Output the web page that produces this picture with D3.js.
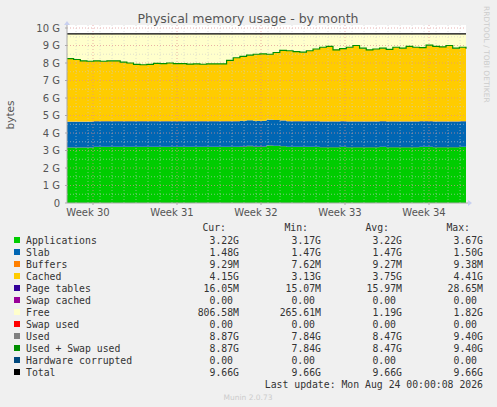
<!DOCTYPE html><html><head><meta charset="utf-8">
<script src="https://cdn.jsdelivr.net/npm/d3@7"></script>
<style>body{margin:0;background:#f0f0f0}svg{display:block}</style></head><body>
<script>
const used=[8.25,8.2,8.12,8.1,8.12,8.1,8.12,8.12,8.05,8.0,7.92,7.9,7.92,7.98,7.96,8.0,7.96,7.97,7.94,7.95,7.93,7.95,7.95,7.95,8.15,8.3,8.38,8.45,8.5,8.52,8.5,8.6,8.72,8.7,8.65,8.62,8.7,8.8,8.9,8.95,8.75,8.82,8.9,9.0,8.85,8.75,8.8,8.85,8.78,8.9,8.85,8.95,8.9,8.88,9.02,8.95,8.92,9.0,8.85,8.9,8.82];
const apps=[3.17,3.17,3.17,3.17,3.2,3.2,3.2,3.2,3.2,3.2,3.2,3.2,3.2,3.2,3.2,3.2,3.2,3.2,3.2,3.2,3.2,3.2,3.2,3.2,3.2,3.2,3.22,3.25,3.22,3.22,3.28,3.26,3.24,3.2,3.2,3.2,3.2,3.2,3.18,3.18,3.18,3.2,3.18,3.18,3.18,3.18,3.18,3.2,3.18,3.18,3.18,3.18,3.18,3.2,3.2,3.18,3.18,3.18,3.18,3.2,3.2];
const slab=1.46, buffers=0.009, pageTables=0.016, total=9.66;
const weekLabels=["Week 30","Week 31","Week 32","Week 33","Week 34"];
const yTicks=[0,1,2,3,4,5,6,7,8,9,10];
const legend=[
["Applications","#00CC00","3.22G","3.17G","3.22G","3.67G"],
["Slab","#0066B3","1.48G","1.47G","1.47G","1.50G"],
["Buffers","#FF8000","9.29M","7.62M","9.27M","9.38M"],
["Cached","#FFCC00","4.15G","3.13G","3.75G","4.41G"],
["Page tables","#330099","16.05M","15.07M","15.97M","28.65M"],
["Swap cached","#990099","0.00","0.00","0.00","0.00"],
["Free","#FFFFCC","806.58M","265.61M","1.19G","1.82G"],
["Swap used","#FF0000","0.00","0.00","0.00","0.00"],
["Used","#808080","8.87G","7.84G","8.47G","9.40G"],
["Used + Swap used","#008F00","8.87G","7.84G","8.47G","9.40G"],
["Hardware corrupted","#00487D","0.00","0.00","0.00","0.00"],
["Total","#000000","9.66G","9.66G","9.66G","9.66G"]];

const W=497,H=407,L=67,R=466,T=28,B=203;
const svg=d3.select("body").append("svg").attr("width",W).attr("height",H);
const n=used.length;
const x=d3.scaleLinear().domain([0,n-1]).range([L,R]);
const y=d3.scaleLinear().domain([0,10]).range([B,T]);
svg.append("rect").attr("x",L).attr("y",T-3).attr("width",R-L).attr("height",B-T+3).attr("fill","#fff");
// data rows
const rows=used.map((u,i)=>{const a=apps[i];const c=u-a-slab-buffers-pageTables;return{a,p:pageTables,s:slab,b:buffers,c,f:total-u};});
const keys=["a","p","s","b","c","f"],cols={a:"#00CC00",p:"#330099",s:"#0066B3",b:"#FF8000",c:"#FFCC00",f:"#FFFFCC"};
const st=d3.stack().keys(keys)(rows);
const area=d3.area().x((d,i)=>x(i)).y0(d=>y(d[0])).y1(d=>y(d[1])).curve(d3.curveStepAfter);
svg.selectAll(".ar").data(st).enter().append("path").attr("d",area).attr("fill",d=>cols[d.key]);
// grid
const g=svg.append("g");
for(let v=0.5;v<10;v+=1)g.append("line").attr("x1",L).attr("x2",R).attr("y1",y(v)).attr("y2",y(v)).attr("stroke","#ccc").attr("stroke-dasharray","1,2").attr("stroke-width",0.6);
const wk=[93,177,261,345,429].map(v=>x.invert(v));
const dayPx=12;
for(let px=L+9;px<R;px+=dayPx)g.append("line").attr("x1",px).attr("x2",px).attr("y1",T-3).attr("y2",B).attr("stroke","#ccc").attr("stroke-dasharray","1,2").attr("stroke-width",0.6);
yTicks.slice(1).forEach(v=>g.append("line").attr("x1",L).attr("x2",R).attr("y1",y(v)).attr("y2",y(v)).attr("stroke","#e09090").attr("stroke-dasharray","1,2").attr("stroke-width",0.7));
wk.forEach(v=>g.append("line").attr("x1",x(v)).attr("x2",x(v)).attr("y1",T-3).attr("y2",B).attr("stroke","#e09090").attr("stroke-dasharray","1,2").attr("stroke-width",0.7));
// lines
svg.append("path").datum(used).attr("d",d3.line().x((d,i)=>x(i)).y(d=>y(d)).curve(d3.curveStepAfter)).attr("fill","none").attr("stroke","#008F00").attr("stroke-width",1.2);
svg.append("line").attr("x1",L).attr("x2",R).attr("y1",y(total)).attr("y2",y(total)).attr("stroke","#000").attr("stroke-width",1.2);
// axes
svg.append("line").attr("x1",L).attr("x2",R+3).attr("y1",B).attr("y2",B).attr("stroke","#aaa");
svg.append("line").attr("x1",L).attr("x2",L).attr("y1",B).attr("y2",T-5).attr("stroke","#aaa");
svg.append("path").attr("d",`M${R+6},${B}l-4,-3v6z`).attr("fill","#c8d0f0");
svg.append("path").attr("d",`M${L},${T-7}l-3,4h6z`).attr("fill","#c8d0f0");
const yAx=svg.append("g").attr("font-family","DejaVu Sans").attr("font-size",10).attr("fill","#555");
yTicks.forEach(v=>yAx.append("text").attr("x",60).attr("y",y(v)+3.5).attr("text-anchor","end").text(v===0?"0":v+" G"));
yTicks.forEach(v=>svg.append("line").attr("x1",L-2).attr("x2",L).attr("y1",y(v)).attr("y2",y(v)).attr("stroke","#aaa"));
weekLabels.forEach((t,i)=>{svg.append("line").attr("x1",x(wk[i])).attr("x2",x(wk[i])).attr("y1",B).attr("y2",B+2).attr("stroke","#aaa");
 yAx.append("text").attr("x",x(wk[i])-5).attr("y",B+13).attr("text-anchor","middle").text(t);});
svg.append("text").attr("x",248).attr("y",23).attr("text-anchor","middle").attr("font-family","DejaVu Sans").attr("font-size",12.5).attr("fill","#555").text("Physical memory usage - by month");
svg.append("text").attr("transform","translate(14,115) rotate(-90)").attr("text-anchor","middle").attr("font-family","DejaVu Sans").attr("font-size",10.5).attr("fill","#555").text("bytes");
svg.append("text").attr("transform","translate(484,6) rotate(90)").attr("font-family","DejaVu Sans").attr("font-size",7.5).attr("fill","#ccc").text("RRDTOOL / TOBI OETIKER");
// legend
const lg=svg.append("g").attr("font-family","DejaVu Sans Mono").attr("font-size",9.8).attr("fill","#333");
const cx=[239,321,402,483];
["Cur:","Min:","Avg:","Max:"].forEach((h,i)=>lg.append("text").attr("x",cx[i]-13).attr("y",231).attr("text-anchor","end").text(h));
legend.forEach((r,k)=>{const yy=244+k*12;
 svg.append("rect").attr("x",14).attr("y",yy-7).attr("width",6).attr("height",6).attr("fill",r[1]);
 lg.append("text").attr("x",26).attr("y",yy).text(r[0]);
 r.slice(2).forEach((v,i)=>lg.append("text").attr("x",cx[i]-(v.endsWith("G")||v.endsWith("M")?0:6)).attr("y",yy).attr("text-anchor","end").text(v));});
lg.append("text").attr("x",483).attr("y",388).attr("text-anchor","end").text("Last update: Mon Aug 24 00:00:08 2026");
svg.append("text").attr("x",248).attr("y",400).attr("text-anchor","middle").attr("font-family","DejaVu Sans").attr("font-size",7.5).attr("fill","#ccc").text("Munin 2.0.73");
</script></body></html>
